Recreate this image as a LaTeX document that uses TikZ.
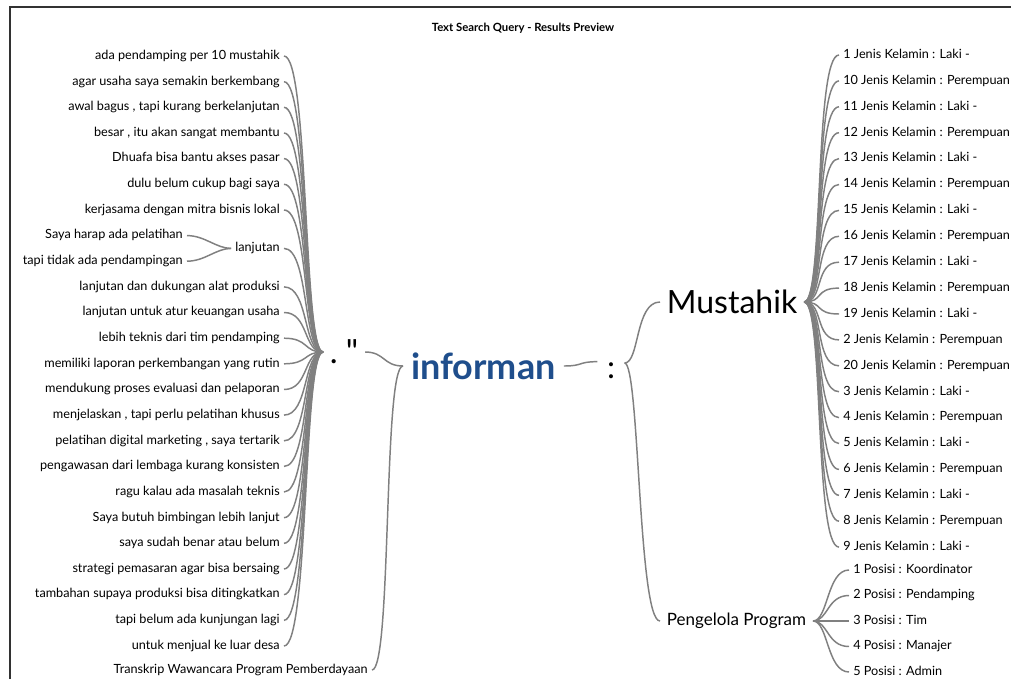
\documentclass[tikz,border=0pt]{standalone}
\usepackage{fontspec}
\setmainfont{Lato}
\newfontfamily\rawlato{Lato}
\definecolor{linkgray}{RGB}{128,128,128}
\definecolor{infblue}{RGB}{31,78,140}
\definecolor{framegray}{RGB}{50,50,50}
\begin{document}
\begin{tikzpicture}[x=0.75pt,y=-0.75pt,
  lnk/.style={draw=linkgray, line width=1.1pt},
  leaffont/.style={font=\fontsize{9.5}{12}\selectfont, text height=7pt, text depth=2pt},
  leafL/.style={leaffont, anchor=east, inner xsep=3pt, inner ysep=0pt},
  leafR/.style={leaffont, anchor=west, inner xsep=3pt, inner ysep=0pt}]
\useasboundingbox (0,0) rectangle (1011,679);
\fill[white] (0,0) rectangle (1011,679);
\draw[line width=1.1pt, draw=framegray] (10,679) -- (10,7) -- (1011,7);

\node[font=\bfseries\fontsize{8.5}{10}\selectfont] (title) at (523,28) {Text Search Query - Results Preview};

% central nodes
\node[anchor=west, inner xsep=5pt, inner ysep=0pt, font=\rawlato\fontsize{25}{30}\selectfont] (dq) at (323,352) {.\hspace{6pt}\char34};
\node[anchor=west, inner xsep=6pt, inner ysep=0pt, font=\bfseries\fontsize{27}{32}\selectfont, text=infblue] (inf) at (403,366) {informan};
\node[inner xsep=7pt, inner ysep=0pt, font=\fontsize{24}{28}\selectfont] (col) at (611,371) {:};
\node[anchor=west, inner xsep=5pt, inner ysep=0pt, font=\fontsize{24}{28}\selectfont] (must) at (660,302) {Mustahik};
\node[anchor=west, inner xsep=5pt, inner ysep=0pt, font=\fontsize{12.75}{15}\selectfont] (peng) at (660,621) {Pengelola Program};

% left leaves
\node[leafL] (L1) at (284,56) {ada pendamping per 10 mustahik};
\node[leafL] (L2) at (284,81.7) {agar usaha saya semakin berkembang};
\node[leafL] (L3) at (284,107.3) {awal bagus , tapi kurang berkelanjutan};
\node[leafL] (L4) at (284,133) {besar , itu akan sangat membantu};
\node[leafL] (L5) at (284,158.6) {Dhuafa bisa bantu akses pasar};
\node[leafL] (L6) at (284,184.3) {dulu belum cukup bagi saya};
\node[leafL] (L7) at (284,210) {kerjasama dengan mitra bisnis lokal};
\node[leafL] (S1) at (187,235.6) {Saya harap ada pelatihan};
\node[leafL] (S2) at (187,261.2) {tapi tidak ada pendampingan};
\node[leafL] (lanj) at (284,248.4) {lanjutan};
\node[leafL] (L10) at (284,286.9) {lanjutan dan dukungan alat produksi};
\node[leafL] (L11) at (284,312.5) {lanjutan untuk atur keuangan usaha};
\node[leafL] (L12) at (284,338.2) {lebih teknis dari tim pendamping};
\node[leafL] (L13) at (284,363.8) {memiliki laporan perkembangan yang rutin};
\node[leafL] (L14) at (284,389.5) {mendukung proses evaluasi dan pelaporan};
\node[leafL] (L15) at (284,415.1) {menjelaskan , tapi perlu pelatihan khusus};
\node[leafL] (L16) at (284,440.8) {pelatihan digital marketing , saya tertarik};
\node[leafL] (L17) at (284,466.4) {pengawasan dari lembaga kurang konsisten};
\node[leafL] (L18) at (284,492) {ragu kalau ada masalah teknis};
\node[leafL] (L19) at (284,517.7) {Saya butuh bimbingan lebih lanjut};
\node[leafL] (L20) at (284,543.3) {saya sudah benar atau belum};
\node[leafL] (L21) at (284,569) {strategi pemasaran agar bisa bersaing};
\node[leafL] (L22) at (284,594.6) {tambahan supaya produksi bisa ditingkatkan};
\node[leafL] (L23) at (284,620.3) {tapi belum ada kunjungan lagi};
\node[leafL] (L24) at (284,646) {untuk menjual ke luar desa};
\node[leafL] (T) at (372,670) {Transkrip Wawancara Program Pemberdayaan};

% right leaves (Mustahik)
\node[leafR] (M1) at (839,55) {1 Jenis Kelamin : Laki -};
\node[leafR] (M2) at (839,80.9) {10 Jenis Kelamin : Perempuan};
\node[leafR] (M3) at (839,106.8) {11 Jenis Kelamin : Laki -};
\node[leafR] (M4) at (839,132.7) {12 Jenis Kelamin : Perempuan};
\node[leafR] (M5) at (839,158.6) {13 Jenis Kelamin : Laki -};
\node[leafR] (M6) at (839,184.5) {14 Jenis Kelamin : Perempuan};
\node[leafR] (M7) at (839,210.4) {15 Jenis Kelamin : Laki -};
\node[leafR] (M8) at (839,236.3) {16 Jenis Kelamin : Perempuan};
\node[leafR] (M9) at (839,262.2) {17 Jenis Kelamin : Laki -};
\node[leafR] (M10) at (839,288.1) {18 Jenis Kelamin : Perempuan};
\node[leafR] (M11) at (839,314) {19 Jenis Kelamin : Laki -};
\node[leafR] (M12) at (839,339.9) {2 Jenis Kelamin : Perempuan};
\node[leafR] (M13) at (839,365.8) {20 Jenis Kelamin : Perempuan};
\node[leafR] (M14) at (839,391.7) {3 Jenis Kelamin : Laki -};
\node[leafR] (M15) at (839,417.6) {4 Jenis Kelamin : Perempuan};
\node[leafR] (M16) at (839,443.5) {5 Jenis Kelamin : Laki -};
\node[leafR] (M17) at (839,469.4) {6 Jenis Kelamin : Perempuan};
\node[leafR] (M18) at (839,495.3) {7 Jenis Kelamin : Laki -};
\node[leafR] (M19) at (839,521.2) {8 Jenis Kelamin : Perempuan};
\node[leafR] (M20) at (839,547.1) {9 Jenis Kelamin : Laki -};

% right leaves (Pengelola)
\node[leafR] (P1) at (849,570) {1 Posisi : Koordinator};
\node[leafR] (P2) at (849,595.5) {2 Posisi : Pendamping};
\node[leafR] (P3) at (849,621) {3 Posisi : Tim};
\node[leafR] (P4) at (849,646.5) {4 Posisi : Manajer};
\node[leafR] (P5) at (849,672) {5 Posisi : Admin};

% left fan
\foreach \n in {L1,L2,L3,L4,L5,L6,L7,lanj,L10,L11,L12,L13,L14,L15,L16,L17,L18,L19,L20,L21,L22,L23,L24}
  \draw[lnk] (\n.east) .. controls +(25,0) and +(-20,0) .. (dq.west);
\foreach \n in {S1,S2}
  \draw[lnk] (\n.east) .. controls +(18,0) and +(-15,0) .. (lanj.west);

% center connectors
\draw[lnk] (dq.east) .. controls +(20,0) and +(-20,0) .. (inf.west);
\draw[lnk] (T.east) .. controls +(20,0) and +(-20,0) .. (inf.west);
\draw[lnk] (inf.east) .. controls +(20,0) and +(-20,0) .. ([yshift=7pt]col.west);
\draw[lnk] ([yshift=6pt]col.east) .. controls +(15,0) and +(-25,0) .. (must.west);
\draw[lnk] ([yshift=6pt]col.east) .. controls +(15,0) and +(-22,0) .. (peng.west);

% right fans
\foreach \n in {M1,M2,M3,M4,M5,M6,M7,M8,M9,M10,M11,M12,M13,M14,M15,M16,M17,M18,M19,M20}
  \draw[lnk] (must.east) .. controls +(20,0) and +(-25,0) .. (\n.west);
\foreach \n in {P1,P2,P3,P4,P5}
  \draw[lnk] (peng.east) .. controls +(15,0) and +(-22,0) .. (\n.west);
\end{tikzpicture}
\end{document}
